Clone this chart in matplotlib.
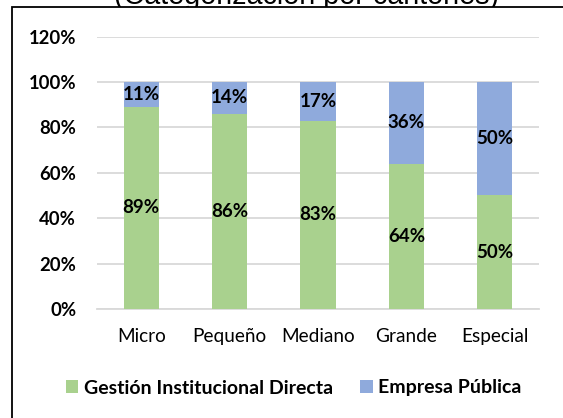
import matplotlib
matplotlib.use("Agg")
import matplotlib.pyplot as plt
from matplotlib.patches import Rectangle, Patch
from matplotlib.ticker import FuncFormatter

categories = ["Micro", "Pequeño", "Mediano", "Grande", "Especial"]
gestion = [89, 86, 83, 64, 50]
empresa = [11, 14, 17, 36, 50]
series_names = ["Gestión Institucional Directa", "Empresa Pública"]
title = "(Categorización por cantones)"
yticks = [0, 20, 40, 60, 80, 100, 120]

GREEN = "#A9D18E"
BLUE = "#8FAADC"
FONT = "Lato"

W, H = 563, 418
fig = plt.figure(figsize=(W / 100, H / 100), dpi=100)

# clipped title behind chart area
fig.text(306 / W, 1 - 4 / H, title, ha="center", va="baseline",
         fontsize=20.7, family="Liberation Sans", zorder=-3)
# chart area (white, black border on left/top)
fig.patches.append(Rectangle((11.5 / W, -0.1), 1.2, 1 - 7.3 / H + 0.1,
                             transform=fig.transFigure, facecolor="white",
                             edgecolor="black", linewidth=1.3, zorder=-2))

ax = fig.add_axes([97 / W, 1 - 309 / H, (539 - 97) / W, (309 - 36.5) / H])
ax.set_facecolor("none")
x = list(range(len(categories)))
bw = 0.40
b1 = ax.bar(x, gestion, width=bw, color=GREEN, zorder=3)
b2 = ax.bar(x, empresa, width=bw, bottom=gestion, color=BLUE, zorder=3)

for i in x:
    ax.text(i, gestion[i] / 2, f"{gestion[i]}%", ha="center", va="center",
            fontsize=13.5, fontweight="bold", family=FONT, zorder=4)
    ax.text(i, gestion[i] + empresa[i] / 2, f"{empresa[i]}%", ha="center",
            va="center", fontsize=13.5, fontweight="bold", family=FONT, zorder=4)

ax.set_xlim(-0.5, len(categories) - 0.5)
ax.set_ylim(0, 120)
ax.set_yticks(yticks)
ax.yaxis.set_major_formatter(FuncFormatter(lambda v, p: f"{v:.0f}%"))
ax.set_xticks(x)
ax.set_xticklabels(categories)
ax.grid(axis="y", color="#D9D9D9", linewidth=1.3, zorder=0)
ax.set_axisbelow(True)
for s in ["left", "right", "top"]:
    ax.spines[s].set_visible(False)
ax.spines["bottom"].set_color("#D9D9D9")
ax.spines["bottom"].set_linewidth(1.3)
ax.tick_params(axis="both", length=0)
ax.tick_params(axis="y", pad=15)
ax.tick_params(axis="x", pad=14)
for lab in ax.get_yticklabels():
    lab.set_fontfamily(FONT)
    lab.set_fontweight("bold")
    lab.set_fontsize(13.3)
for lab in ax.get_xticklabels():
    lab.set_fontfamily(FONT)
    lab.set_fontsize(13.7)

handles = [Patch(facecolor=GREEN, edgecolor="none"),
           Patch(facecolor=BLUE, edgecolor="none")]
fig.legend(handles, series_names, loc="center", bbox_to_anchor=(294 / W, 1 - 388 / H),
           ncol=2, frameon=False, handlelength=0.62, handleheight=0.62,
           handletextpad=0.3, columnspacing=1.4,
           prop={"family": FONT, "weight": "bold", "size": 14})

fig.savefig("out.png", dpi=100)
